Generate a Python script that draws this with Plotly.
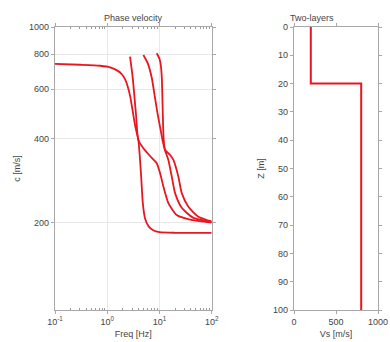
import plotly.graph_objects as go

# ---- data: phase velocity dispersion curves ----
f_mode0 = [0.1, 0.3, 0.73, 1.13, 1.6, 1.9, 2.2, 2.45, 2.75, 3.16, 3.5, 3.94, 4.2, 4.45, 4.8, 5.3, 6.2, 7.6, 10, 20, 100]
c_mode0 = [738, 733, 727, 718, 697, 678, 650, 615, 565, 485, 435, 395, 345, 295, 235, 207, 194, 188, 185, 184, 184]

f_mode1 = [2.73, 3.08, 3.56, 3.94, 4.92, 6.61, 7.64, 8.87, 10.3, 11.9, 14.8, 21.4, 38.6, 100]
c_mode1 = [783, 657, 485, 395, 369, 346, 336, 326, 300, 269, 235, 213, 205, 200]

f_mode2 = [4.92, 6.0, 7.1, 8.2, 9.2, 10.5, 11.6, 12.8, 14.8, 17.2, 19.9, 26.7, 44.6, 100]
c_mode2 = [794, 740, 660, 560, 490, 430, 390, 362, 335, 292, 255, 226, 208, 201]

f_mode3 = [8.87, 10.0, 10.6, 11.1, 11.6, 12.0, 12.8, 16.0, 18.5, 23.0, 26.7, 35.8, 55.6, 100]
c_mode3 = [806, 770, 731, 657, 485, 401, 364, 349, 335, 292, 255, 228, 210, 202]

# ---- data: two-layer Vs profile ----
vs_profile = [200, 200, 800, 800]
z_profile = [0, 20, 20, 100]

c_ticks = [200, 400, 600, 800, 1000]
f_ticks = [0.1, 1, 10, 100]
f_ticktext = ["10<sup>-1</sup>", "10<sup>0</sup>", "10<sup>1</sup>", "10<sup>2</sup>"]
f_minor = [m * d for d in (0.1, 1, 10) for m in range(2, 10)]
z_ticks = [0, 10, 20, 30, 40, 50, 60, 70, 80, 90, 100]
vs_ticks = [0, 500, 1000]

RED = "rgb(232,22,32)"
AX = "#a8a8a8"
TXT = "#444444"
FONT = "Liberation Sans, Arial, sans-serif"

fig = go.Figure()
for fx, cy in [(f_mode0, c_mode0), (f_mode1, c_mode1), (f_mode2, c_mode2), (f_mode3, c_mode3)]:
    fig.add_trace(go.Scatter(x=fx, y=cy, mode="lines", line=dict(color=RED, width=1.8, shape="spline", smoothing=0.6),
                             xaxis="x", yaxis="y", showlegend=False, hoverinfo="skip"))
fig.add_trace(go.Scatter(x=vs_profile, y=z_profile, mode="lines", line=dict(color=RED, width=2),
                         xaxis="x2", yaxis="y2", showlegend=False, hoverinfo="skip"))

ydom = [1 - 310 / 342, 1 - 27 / 342]
common = dict(showline=True, linecolor=AX, linewidth=1.3, mirror="ticks", ticks="outside",
              tickcolor=AX, ticklen=3, tickfont=dict(size=9, color=TXT, family=FONT), zeroline=False,
              automargin=False)

fig.update_layout(
    width=390, height=342, margin=dict(l=0, r=0, t=0, b=0),
    paper_bgcolor="white", plot_bgcolor="white",
    font=dict(family=FONT, color=TXT, size=9),
    xaxis=dict(domain=[55 / 390, 211.7 / 390], type="log", range=[-1, 2], anchor="y",
               tickvals=f_ticks, ticktext=f_ticktext, showgrid=True, gridcolor="#e8e8e8", gridwidth=1,
               minor=dict(tickvals=f_minor, ticks="inside", ticklen=2, tickcolor="#999", showgrid=False),
               title=dict(text="Freq [Hz]", font=dict(size=9, color=TXT), standoff=4), **common),
    yaxis=dict(domain=ydom, type="log", range=[1.989, 3.0], anchor="x",
               tickvals=c_ticks, showgrid=True, gridcolor="#e8e8e8", gridwidth=1,
               title=dict(text="c [m/s]", font=dict(size=9, color=TXT), standoff=6), **common),
    xaxis2=dict(domain=[294 / 390, 378 / 390], range=[0, 1000], anchor="y2",
                tickvals=vs_ticks, showgrid=False,
                title=dict(text="Vs [m/s]", font=dict(size=9, color=TXT), standoff=4), **common),
    yaxis2=dict(domain=ydom, range=[100, 0], anchor="x2",
                tickvals=z_ticks, showgrid=False,
                title=dict(text="Z [m]", font=dict(size=9, color=TXT), standoff=6), **common),
    annotations=[
        dict(text="Phase velocity", x=(55 + 211.7) / 2 / 390, y=1 - 11 / 342, xref="paper", yref="paper",
             showarrow=False, font=dict(size=9, color=TXT, family=FONT)),
        dict(text="Two-layers", x=336 / 390, y=1 - 11 / 342, xref="paper", yref="paper",
             showarrow=False, font=dict(size=9, color=TXT, family=FONT)),
    ],
)

fig.write_html("out.html", config={"displayModeBar": False},
               post_script="document.body.style.margin='0';document.body.style.overflow='hidden';")
